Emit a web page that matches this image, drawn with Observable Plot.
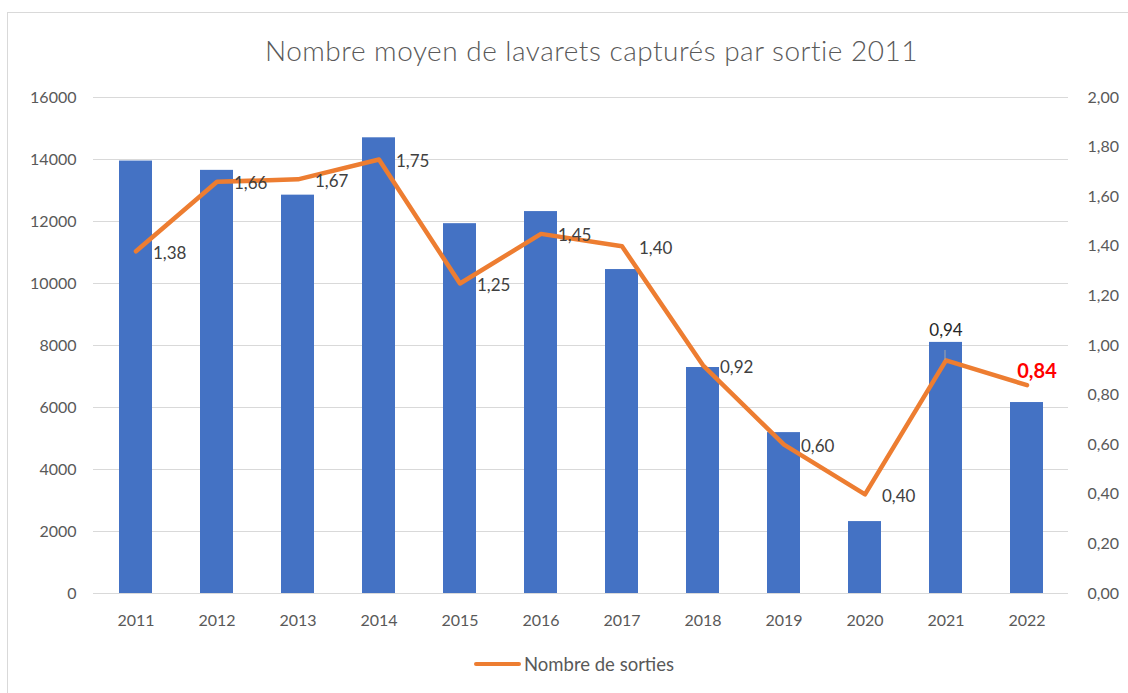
<!DOCTYPE html>
<html><head><meta charset="utf-8">
<script src="https://cdn.jsdelivr.net/npm/d3@7"></script>
<script src="https://cdn.jsdelivr.net/npm/@observablehq/plot@0.6"></script>
<style>
body{margin:0;background:#fff;font-family:Lato,"Open Sans",sans-serif;}
#wrap{position:relative;width:1128px;height:693px;overflow:hidden;background:#fff}
#chart{position:absolute;left:0;top:0}
#frame{position:absolute;left:7px;top:12px;width:1300px;height:900px;border:1px solid #d9d9d9;pointer-events:none}
#title{position:absolute;left:0;width:1183px;top:33px;text-align:center;font-size:28px;letter-spacing:0.5px;font-weight:300;color:#595959;white-space:nowrap}
#legend{position:absolute;left:474px;top:653px;height:22px;display:flex;align-items:center;font-size:18.5px;color:#595959;white-space:nowrap}
#legend .sw{display:inline-block;width:47px;height:4px;background:#ED7D31;border-radius:2px;margin-right:3px}
</style></head>
<body>
<div id="wrap">
  <div id="chart"></div>
  <div id="title">Nombre moyen de lavarets capturés par sortie 2011</div>
  <div id="legend"><span class="sw"></span>Nombre de sorties</div>
  <div id="frame"></div>
</div>
<script>
const years = ["2011","2012","2013","2014","2015","2016","2017","2018","2019","2020","2021","2022"];
const captures = [13950, 13650, 12850, 14700, 11930, 12320, 10450, 7290, 5190, 2320, 8100, 6160];
const sorties = [1.38, 1.66, 1.67, 1.75, 1.25, 1.45, 1.40, 0.92, 0.60, 0.40, 0.94, 0.84];
const leftTicks = [0, 2000, 4000, 6000, 8000, 10000, 12000, 14000, 16000];
const rightTicks = [0, 0.2, 0.4, 0.6, 0.8, 1.0, 1.2, 1.4, 1.6, 1.8, 2.0];
const leftMax = 16000, rightMax = 2.0;
const ratio = leftMax / rightMax;

const data = years.map((y, i) => ({year: y, captures: captures[i], sorties: sorties[i], i}));
const fmt = v => v.toFixed(2).replace(".", ",");
const normal = data.filter(d => d.i < 10);
const above = data.filter(d => d.year === "2021");
const last = data.filter(d => d.year === "2022");

const chart = Plot.plot({
  width: 1128, height: 693,
  marginTop: 97, marginBottom: 100, marginLeft: 93, marginRight: 60,
  style: {fontFamily: "Lato, 'Open Sans', sans-serif", fontSize: "16px", color: "#595959", background: "transparent", overflow: "visible"},
  x: {type: "band", domain: years, paddingInner: 0.595, paddingOuter: 0.2975},
  y: {domain: [0, leftMax]},
  marks: [
    Plot.gridY(leftTicks, {stroke: "#d9d9d9", strokeOpacity: 1, strokeWidth: 1.2}),
    Plot.barY(data, {x: "year", y: "captures", fill: "#4472C4"}),
    Plot.axisY({ticks: leftTicks, tickSize: 0, tickPadding: 17, tickFormat: d => String(d), label: null, fontSize: 16}),
    Plot.axisY({anchor: "right", ticks: rightTicks.map(v => v * ratio), tickSize: 0, tickPadding: 19, tickFormat: d => fmt(d / ratio), label: null, fontSize: 16}),
    Plot.axisX({tickSize: 0, tickPadding: 21, label: null, fontSize: 16}),
    Plot.lineY(data, {x: "year", y: d => d.sorties * ratio, stroke: "#ED7D31", strokeWidth: 4.5, strokeLinecap: "round", strokeLinejoin: "round"}),
    Plot.text(normal, {x: "year", y: d => d.sorties * ratio, text: d => fmt(d.sorties), textAnchor: "start", dx: 17, dy: 2, fill: "#404040", fontSize: 17}),
    Plot.ruleX(above, {x: "year", y1: d => d.sorties * ratio, y2: d => (d.sorties + 0.04) * ratio, stroke: "#a6a6a6", strokeWidth: 1, dx: -1}),
    Plot.text(above, {x: "year", y: d => d.sorties * ratio, text: d => fmt(d.sorties), dy: -30, fill: "#262626", fontSize: 17}),
    Plot.text(last, {x: "year", y: d => d.sorties * ratio, text: d => fmt(d.sorties), dx: 10, dy: -14, fill: "#FF0000", fontSize: 20, fontWeight: "bold"})
  ]
});
document.getElementById("chart").appendChild(chart);
</script>
</body></html>
